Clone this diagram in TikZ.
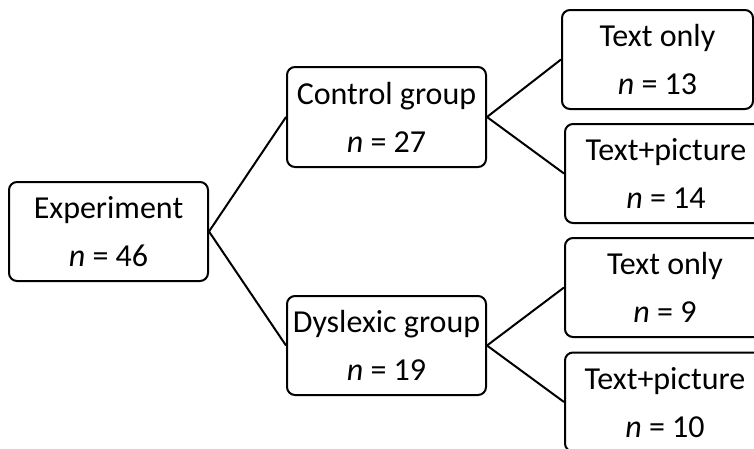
\documentclass[tikz,border=0pt]{standalone}
\usepackage{fontspec}
\setmainfont{Carlito}
\begin{document}
\begin{tikzpicture}[x=1pt,y=-1pt,
  box/.style={draw,line width=2pt,rounded corners=8pt,inner sep=0pt,
    align=center,font=\fontsize{32}{48}\selectfont,text depth=0pt},
  link/.style={line width=2pt}]
\useasboundingbox (0,0) rectangle (754,448);
\clip (0,0) rectangle (754,448);
\node[box,minimum width=199pt,minimum height=99pt] (exp) at (108.5,231.5) {Experiment\\\textit{n} = 46};
\node[box,minimum width=199pt,minimum height=100pt] (ctrl) at (386.5,117) {Control group\\\textit{n} = 27};
\node[box,minimum width=199pt,minimum height=99pt] (dys) at (386.5,345.5) {Dyslexic group\\\textit{n} = 19};
\node[box,minimum width=191pt,minimum height=99pt] (t1) at (657.5,59.5) {Text only\\\textit{n} = 13};
\node[box,minimum width=202pt,minimum height=99pt] (tp1) at (666,173.5) {Text+picture\\\textit{n} = 14};
\node[box,minimum width=200pt,minimum height=99pt] (t2) at (665,287.5) {Text only\\\textit{n} = 9};
\node[box,minimum width=200pt,minimum height=99pt] (tp2) at (665,402) {Text+picture\\\textit{n} = 10};
\draw[link] (exp.east) -- (ctrl.west);
\draw[link] (exp.east) -- (dys.west);
\draw[link] (ctrl.east) -- (t1.west);
\draw[link] (ctrl.east) -- (tp1.west);
\draw[link] (dys.east) -- (t2.west);
\draw[link] (dys.east) -- (tp2.west);
\end{tikzpicture}
\end{document}
